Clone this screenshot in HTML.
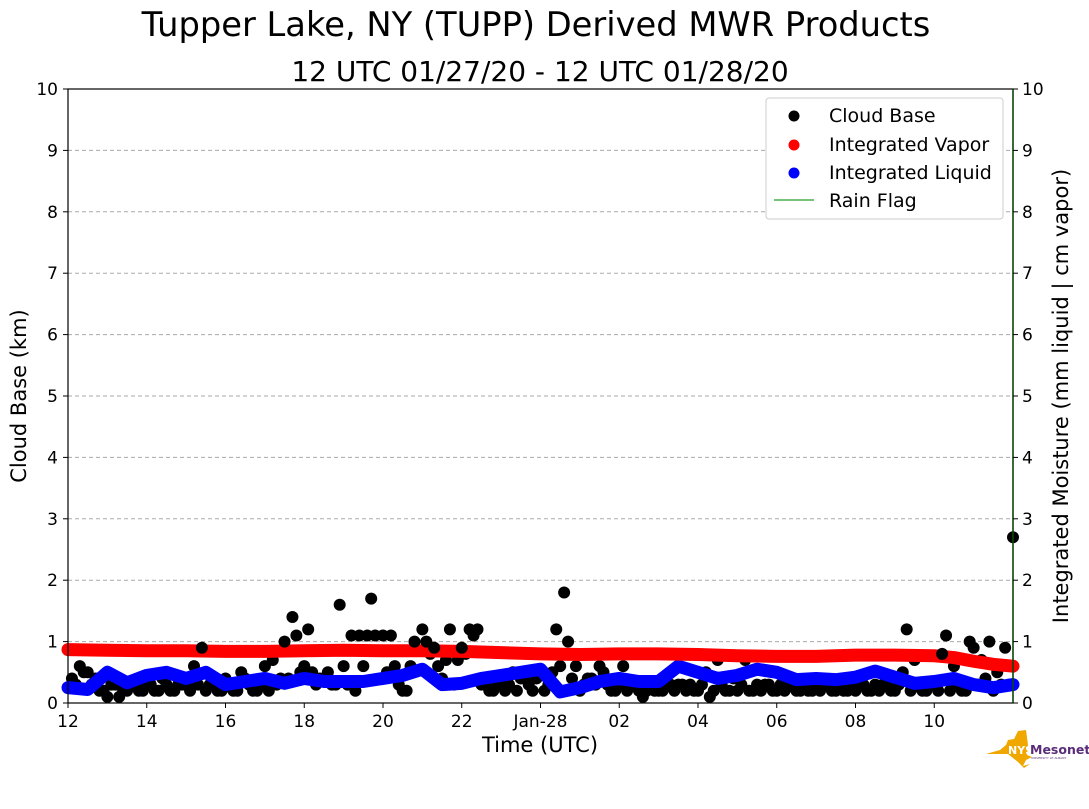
<!DOCTYPE html>
<html><head><meta charset="utf-8">
<style>
body{margin:0;background:#fff;width:1089px;height:804px;overflow:hidden;font-family:"Liberation Sans","DejaVu Sans",sans-serif;}
svg text{font-family:"DejaVu Sans","Liberation Sans",sans-serif;}
</style></head>
<body>
<svg id="chart" width="1089" height="804" xmlns="http://www.w3.org/2000/svg">
<text x="536" y="36" font-size="33.7" text-anchor="middle">Tupper Lake, NY (TUPP) Derived MWR Products</text>
<text x="540" y="81" font-size="28" text-anchor="middle">12 UTC 01/27/20 - 12 UTC 01/28/20</text>
<g id="grid"></g>
<g id="cb2"></g>
<g id="liq"></g>
<g id="vap"></g>
<g id="cb"></g>
<rect x="68" y="89" width="945" height="614" fill="none" stroke="#000" stroke-width="1.2"/>
<line x1="1013" y1="89" x2="1013" y2="703" stroke="#0a4a0a" stroke-width="1.5"/>
<g id="axes"></g>
<text x="540" y="752" font-size="21" text-anchor="middle">Time (UTC)</text>
<text transform="translate(26,396) rotate(-90)" font-size="21" text-anchor="middle">Cloud Base (km)</text>
<text transform="translate(1068,396) rotate(-90)" font-size="21" text-anchor="middle">Integrated Moisture (mm liquid | cm vapor)</text>
<g>
<rect x="766" y="98" width="237" height="121" rx="3" fill="#fff" stroke="#ccc"/>
<circle cx="794" cy="116" r="5.5" fill="#000"/>
<text x="829" y="122" font-size="19">Cloud Base</text>
<circle cx="794" cy="145" r="5.5" fill="#f00"/>
<text x="829" y="151" font-size="19">Integrated Vapor</text>
<circle cx="794" cy="173" r="5.5" fill="#00f"/>
<text x="829" y="179" font-size="19">Integrated Liquid</text>
<line x1="774" y1="200" x2="814" y2="200" stroke="#4caf50" stroke-width="1.5"/>
<text x="829" y="207" font-size="19">Rain Flag</text>
</g>
<g>
<path d="M986 754 L1000 750 L1006 745 L1008 740 L1014 739 L1018 731 L1026 730 L1028 745 L1027 755 L1032 757 L1026 760 L1023 766 L1030 764 L1024 768 L1018 762 L1008 754 Z" fill="#f0a800"/>
<text x="1008" y="754" font-size="11" font-weight="bold" fill="#fff" font-family="Liberation Sans">NYS</text>
<text x="1030" y="754" font-size="12.5" font-weight="bold" fill="#5a2d7a" font-family="Liberation Sans">Mesonet</text>
<text x="1031" y="759" font-size="3" fill="#5a2d7a">UNIVERSITY AT ALBANY</text>
</g>
</svg>
<script>
const xTickHours=[12,14,16,18,20,22,24,26,28,30,32,34];
const xTickLabels=["12","14","16","18","20","22","Jan-28","02","04","06","08","10"];
const yTicks=[0,1,2,3,4,5,6,7,8,9,10];
const vaporTimes=[12,13,14,15,16,17,18,19,20,21,22,23,24,25,26,27,28,29,30,31,32,33,34,34.5,35,35.5,36];
const vaporValues=[0.87,0.86,0.85,0.85,0.84,0.84,0.85,0.86,0.85,0.85,0.84,0.82,0.80,0.79,0.80,0.80,0.79,0.77,0.76,0.76,0.78,0.78,0.77,0.74,0.68,0.63,0.60];
const liquidTimes=[12,12.5,13,13.5,14,14.5,15,15.5,16,16.5,17,17.5,18,18.5,19,19.5,20,20.5,21,21.5,22,22.5,23,23.5,24,24.5,25,25.5,26,26.5,27,27.5,28,28.5,29,29.5,30,30.5,31,31.5,32,32.5,33,33.5,34,34.5,35,35.5,36];
const liquidValues=[0.25,0.22,0.5,0.33,0.45,0.5,0.4,0.5,0.3,0.35,0.4,0.32,0.4,0.35,0.35,0.35,0.4,0.45,0.55,0.3,0.32,0.4,0.45,0.5,0.55,0.18,0.25,0.35,0.4,0.35,0.35,0.6,0.5,0.4,0.45,0.55,0.5,0.38,0.4,0.38,0.42,0.52,0.42,0.32,0.35,0.4,0.3,0.25,0.3];
const cloudTimes=[12.1,12.3,12.4,12.6,12.8,13,13.2,13.4,13.6,13.8,14,14.2,14.4,14.6,14.8,15,15.2,15.4,15.6,15.8,16,16.2,16.4,16.6,16.8,17,17.2,17.4,17.5,17.7,17.8,17.9,18,18.1,18.2,18.4,18.6,18.8,18.9,19,19.2,19.4,19.5,19.6,19.7,19.8,20,20.1,20.2,20.3,20.5,20.7,20.8,21,21.1,21.3,21.5,21.7,21.9,22,22.2,22.3,22.4,22.6,22.8,23,23.3,23.6,23.9,24.1,24.3,24.4,24.5,24.6,24.7,24.9,25.2,25.5,25.8,26.1,26.4,26.7,27,27.3,27.6,27.9,28.2,28.5,28.8,29.1,29.4,29.7,30,30.3,30.6,30.9,31.2,31.5,31.8,32.1,32.4,32.7,33,33.2,33.3,33.5,33.8,34,34.2,34.3,34.5,34.7,34.9,35,35.2,35.4,35.6,35.8,35.9,36];
const cloudValues=[0.4,0.6,0.5,0.3,0.2,0.1,0.3,0.2,0.3,0.2,0.3,0.2,0.4,0.2,0.3,0.3,0.6,0.9,0.3,0.2,0.4,0.2,0.5,0.3,0.2,0.6,0.7,0.4,1.0,1.4,1.1,0.5,0.6,1.2,0.5,0.4,0.5,0.3,1.6,0.6,1.1,1.1,0.6,1.1,1.7,1.1,1.1,0.5,1.1,0.6,0.2,0.6,1.0,1.2,1.0,0.9,0.4,1.2,0.7,0.9,1.2,1.1,1.2,0.3,0.2,0.3,0.5,0.4,0.4,0.2,0.5,1.2,0.6,1.8,1.0,0.6,0.4,0.6,0.2,0.6,0.3,0.2,0.2,0.3,0.3,0.2,0.5,0.7,0.2,0.3,0.2,0.3,0.2,0.3,0.2,0.2,0.3,0.2,0.2,0.3,0.2,0.3,0.2,0.5,1.2,0.7,0.2,0.3,0.8,1.1,0.6,0.2,1.0,0.9,0.7,1.0,0.5,0.9,0.3,2.7,1.2];
const lowTimes=[12.2,12.5,12.7,12.9,13.1,13.3,13.5,13.7,13.9,14.1,14.3,14.5,14.7,14.9,15.1,15.3,15.5,15.7,15.9,16.1,16.3,16.5,16.7,16.9,17.1,17.3,17.6,18.3,18.5,18.7,19.1,19.3,20.4,20.6,21.2,21.4,21.6,21.8,22.1,22.5,22.7,22.9,23.1,23.2,23.4,23.5,23.7,23.8,24.2,24.8,25,25.1,25.3,25.4,25.6,25.7,25.9,26,26.2,26.3,26.5,26.6,26.8,26.9,27.1,27.2,27.4,27.5,27.7,27.8,28,28.1,28.3,28.4,28.6,28.7,28.9,29,29.2,29.3,29.5,29.6,29.8,29.9,30.1,30.2,30.4,30.5,30.7,30.8,31,31.1,31.3,31.4,31.6,31.7,31.9,32,32.2,32.3,32.5,32.6,32.8,32.9,33.1,33.4,33.6,33.7,33.9,34.1,34.4,34.6,34.8,35.1,35.3,35.5,35.7];
const lowValues=[0.3,0.5,0.4,0.2,0.3,0.1,0.2,0.3,0.2,0.3,0.2,0.3,0.2,0.3,0.2,0.3,0.2,0.3,0.2,0.3,0.2,0.4,0.2,0.3,0.2,0.3,0.4,0.3,0.4,0.3,0.3,0.2,0.3,0.2,0.8,0.6,0.7,0.3,0.8,0.3,0.2,0.3,0.2,0.3,0.2,0.4,0.3,0.2,0.3,0.4,0.2,0.3,0.4,0.3,0.5,0.3,0.2,0.3,0.2,0.3,0.2,0.1,0.3,0.2,0.2,0.3,0.2,0.3,0.2,0.3,0.2,0.3,0.1,0.2,0.3,0.2,0.4,0.2,0.7,0.2,0.3,0.2,0.3,0.2,0.3,0.2,0.3,0.2,0.3,0.2,0.3,0.2,0.3,0.2,0.3,0.2,0.3,0.2,0.3,0.2,0.3,0.2,0.3,0.2,0.3,0.2,0.3,0.2,0.3,0.2,0.2,0.3,0.2,0.3,0.4,0.2,0.3];
const NS="http://www.w3.org/2000/svg";
const X0=68,X1=1013,Y0=703,Y1=89;
function xs(h){return X0+(h-12)/24*(X1-X0);}
function ys(v){return Y0-v/10*(Y0-Y1);}
function mk(tag,attrs,parent){const e=document.createElementNS(NS,tag);for(const k in attrs)e.setAttribute(k,attrs[k]);parent.appendChild(e);return e;}
const grid=document.getElementById('grid'),axes=document.getElementById('axes');
yTicks.forEach(v=>{
  if(v>0&&v<10){const g=mk('line',{x1:X0,x2:X1,y1:ys(v),y2:ys(v),stroke:'#aaa','stroke-dasharray':'4,3','stroke-width':1},grid);
  
  }
  mk('line',{x1:X0-5,x2:X0,y1:ys(v),y2:ys(v),stroke:'#000'},axes);
  mk('line',{x1:X1,x2:X1+5,y1:ys(v),y2:ys(v),stroke:'#000'},axes);
  const t=mk('text',{x:X0-10,y:ys(v)+6,'font-size':17,'text-anchor':'end'},axes);t.textContent=v;
  
  
  const t2=mk('text',{x:X1+9,y:ys(v)+6,'font-size':17},axes);t2.textContent=v;
  
  
});
xTickHours.forEach((h,i)=>{
  mk('line',{x1:xs(h),x2:xs(h),y1:Y0,y2:Y0+5,stroke:'#000'},axes);
  const t=mk('text',{x:xs(h),y:Y0+24,'font-size':17,'text-anchor':'middle'},axes);t.textContent=xTickLabels[i];
  
  
});
function band(id,times,vals,color){
  const g=document.getElementById(id);
  const p=mk('polyline',{points:times.map((t,i)=>xs(t)+','+ys(vals[i])).join(' '),fill:'none',stroke:color,'stroke-width':13,'stroke-linejoin':'round','stroke-linecap':'round'},g);
  
  
}
band('liq',liquidTimes,liquidValues,'#0000ff');
band('vap',vaporTimes,vaporValues,'#ff0000');
const cb=document.getElementById('cb'),cb2=document.getElementById('cb2');
lowTimes.forEach((t,i)=>{
  const c=mk('circle',{cx:xs(t),cy:ys(lowValues[i]),r:6,fill:'#000'},cb2);
  
  
});
cloudTimes.forEach((t,i)=>{
  const c=mk('circle',{cx:xs(t),cy:ys(cloudValues[i]),r:6,fill:'#000'},cloudValues[i]<0.75?cb2:cb);
  
  
});
</script>
</body></html>
